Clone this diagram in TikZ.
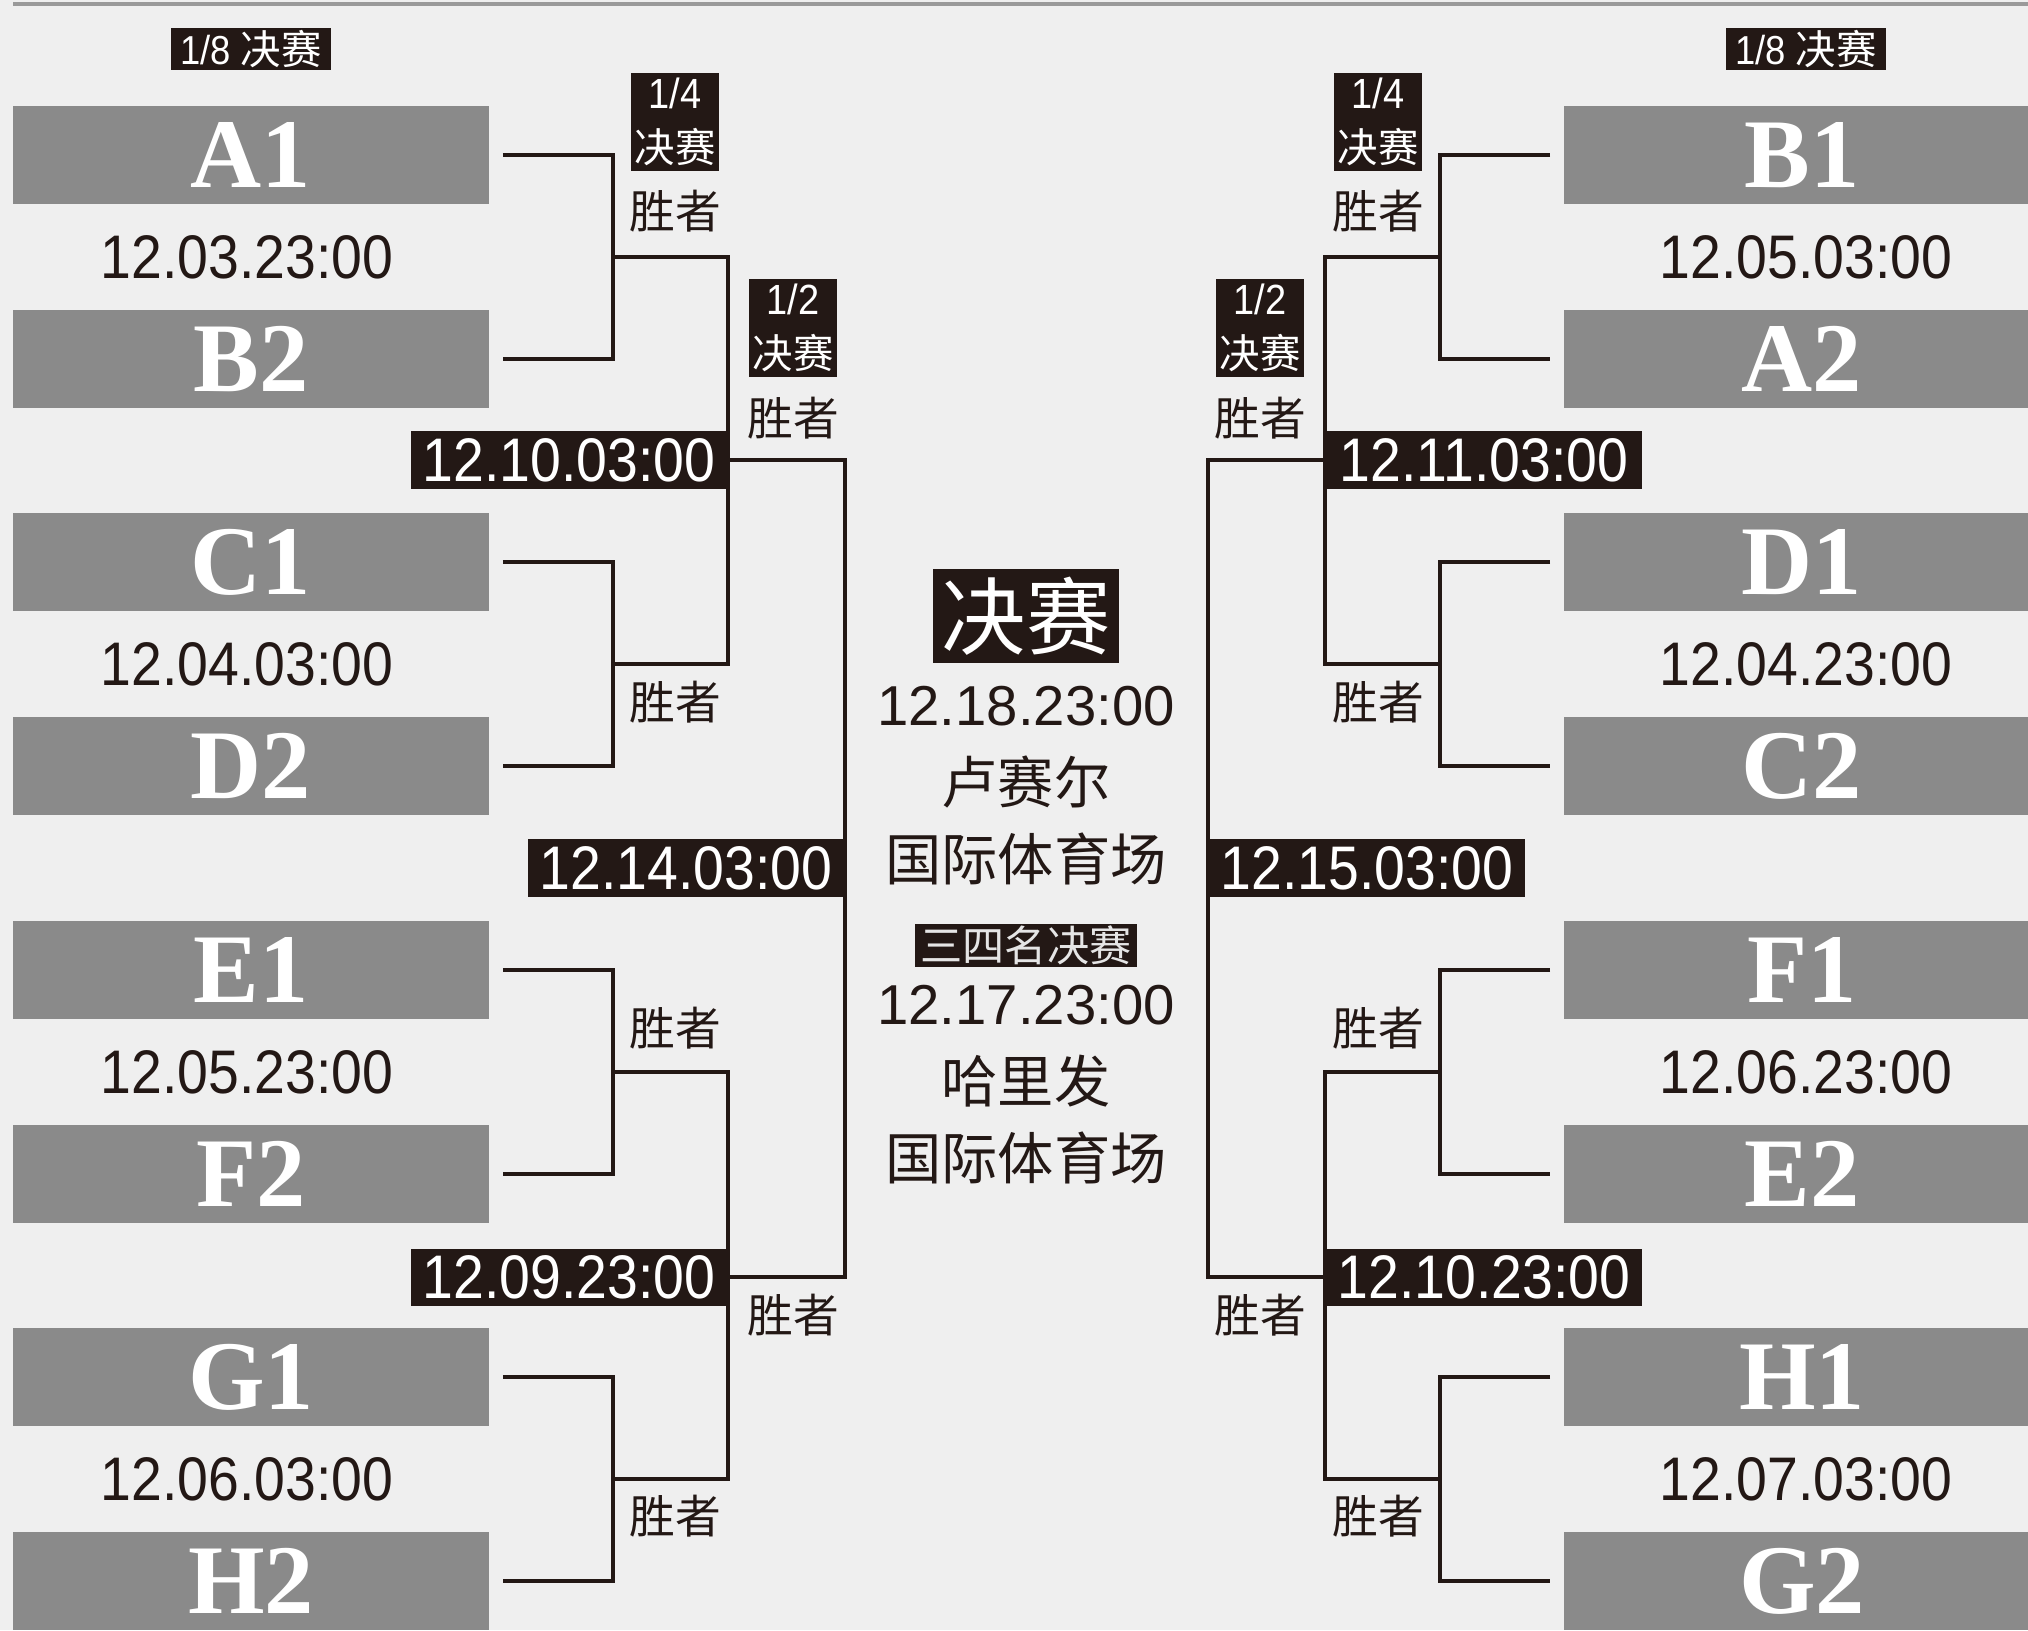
\documentclass[tikz,border=0pt]{standalone}
\usepackage{fontspec}
\setmainfont{Liberation Serif}
\newfontfamily\numfont[FakeStretch=0.9]{Liberation Sans}
\newfontfamily\datefont{Liberation Sans}
\newfontfamily\cnfont{Noto Sans CJK SC}
\definecolor{bg}{HTML}{EFEFEF}
\definecolor{ink}{HTML}{231815}
\definecolor{gbox}{HTML}{8A8A8A}
\definecolor{rule}{HTML}{9A9A9A}

\begin{document}
\begin{tikzpicture}[x=0.01cm,y=-0.01cm,
    bline/.style={draw=ink,line width=1.3pt},
    team/.style={fill=gbox,text=white,inner sep=0pt,minimum width=4.76cm,
      minimum height=0.98cm,font=\fontsize{28}{28}\selectfont\bfseries},
    date/.style={text=ink,inner sep=0pt,font=\numfont\fontsize{17.5}{18}\selectfont},
    hour/.style={fill=ink,text=white,inner sep=0pt,minimum width=3.16cm,
      minimum height=0.57cm,font=\numfont\fontsize{17.5}{18}\selectfont},
    stage/.style={fill=ink,text=white,inner sep=0pt,align=center,
      minimum width=0.88cm,minimum height=0.97cm,font=\fontsize{11.5}{15.5}\selectfont},
    win/.style={text=ink,inner sep=0pt,font=\cnfont\fontsize{13}{13}\selectfont},
    venue/.style={text=ink,inner sep=0pt,font=\cnfont\fontsize{16}{16}\selectfont},
    cdate/.style={text=ink,inner sep=0pt,font=\datefont\fontsize{16}{16}\selectfont}]

  \useasboundingbox (0,0) rectangle (2028,1630);
  \fill[bg] (0,0) rectangle (2028,1630);
  \draw[rule,line width=0.9pt] (13,4) -- (2028,4);

  \node[team] (A1) at ( 251, 155) {A1};
  \node[team] (B2) at ( 251, 359) {B2};
  \node[team] (C1) at ( 251, 562) {C1};
  \node[team] (D2) at ( 251, 766) {D2};
  \node[team] (E1) at ( 251, 970) {E1};
  \node[team] (F2) at ( 251,1174) {F2};
  \node[team] (G1) at ( 251,1377) {G1};
  \node[team] (H2) at ( 251,1581) {H2};
  \node[team] (B1) at (1802, 155) {B1};
  \node[team] (A2) at (1802, 359) {A2};
  \node[team] (D1) at (1802, 562) {D1};
  \node[team] (C2) at (1802, 766) {C2};
  \node[team] (F1) at (1802, 970) {F1};
  \node[team] (E2) at (1802,1174) {E2};
  \node[team] (H1) at (1802,1377) {H1};
  \node[team] (G2) at (1802,1581) {G2};

  \node[date] (d1) at ( 247, 257) {12.03.23:00};
  \node[date] (d2) at ( 247, 664) {12.04.03:00};
  \node[date] (d3) at ( 247,1072) {12.05.23:00};
  \node[date] (d4) at ( 247,1479) {12.06.03:00};
  \node[date] (d5) at (1806, 257) {12.05.03:00};
  \node[date] (d6) at (1806, 664) {12.04.23:00};
  \node[date] (d7) at (1806,1072) {12.06.23:00};
  \node[date] (d8) at (1806,1479) {12.07.03:00};

  \coordinate (q1) at ( 613, 257);
  \coordinate (q2) at ( 613, 664);
  \coordinate (q3) at ( 613,1072);
  \coordinate (q4) at ( 613,1479);
  \coordinate (q5) at (1440, 257);
  \coordinate (q6) at (1440, 664);
  \coordinate (q7) at (1440,1072);
  \coordinate (q8) at (1440,1479);
  \coordinate (s1) at ( 728, 460);
  \coordinate (s2) at ( 728,1277);
  \coordinate (s3) at (1325, 460);
  \coordinate (s4) at (1325,1277);
  \coordinate (f1) at ( 845, 868);
  \coordinate (f2) at (1208, 868);

  \draw[bline] ([xshift=0.13cm]A1.east) -| (q1) |- ([xshift=0.13cm]B2.east);
  \draw[bline] ([xshift=0.13cm]C1.east) -| (q2) |- ([xshift=0.13cm]D2.east);
  \draw[bline] ([xshift=0.13cm]E1.east) -| (q3) |- ([xshift=0.13cm]F2.east);
  \draw[bline] ([xshift=0.13cm]G1.east) -| (q4) |- ([xshift=0.13cm]H2.east);
  \draw[bline] ([xshift=-0.13cm]B1.west) -| (q5) |- ([xshift=-0.13cm]A2.west);
  \draw[bline] ([xshift=-0.13cm]D1.west) -| (q6) |- ([xshift=-0.13cm]C2.west);
  \draw[bline] ([xshift=-0.13cm]F1.west) -| (q7) |- ([xshift=-0.13cm]E2.west);
  \draw[bline] ([xshift=-0.13cm]H1.west) -| (q8) |- ([xshift=-0.13cm]G2.west);
  \draw[bline] (q1) -| (s1) |- (q2);
  \draw[bline] (q3) -| (s2) |- (q4);
  \draw[bline] (q5) -| (s3) |- (q6);
  \draw[bline] (q7) -| (s4) |- (q8);
  \draw[bline] (s1) -| (f1) |- (s2);
  \draw[bline] (s3) -| (f2) |- (s4);

  \node[hour,anchor=east] (h1) at (s1) {12.10.03:00};
  \node[hour,anchor=east] (h2) at (s2) {12.09.23:00};
  \node[hour,anchor=west] (h3) at (s3) {12.11.03:00};
  \node[hour,anchor=west] (h4) at (s4) {12.10.23:00};
  \node[hour,anchor=east] (h5) at (f1) {12.14.03:00};
  \node[hour,anchor=west] (h6) at (f2) {12.15.03:00};

  \node[stage,minimum width=1.59cm,minimum height=0.41cm] (r8l) at ( 251,49)
       {{\numfont 1/8} {\cnfont 决赛}};
  \node[stage,minimum width=1.59cm,minimum height=0.41cm] (r8r) at (1806,49)
       {{\numfont 1/8} {\cnfont 决赛}};
  \node[stage] (r4l) at ( 675,122) {{\numfont\large 1/4}\\{\cnfont 决赛}};
  \node[stage] (r4r) at (1378,122) {{\numfont\large 1/4}\\{\cnfont 决赛}};
  \node[stage] (r2l) at ( 793,328) {{\numfont\large 1/2}\\{\cnfont 决赛}};
  \node[stage] (r2r) at (1260,328) {{\numfont\large 1/2}\\{\cnfont 决赛}};

  \node[win] (w1)  at ( 675, 211) {胜者};
  \node[win] (w2)  at ( 675, 702) {胜者};
  \node[win] (w3)  at ( 675,1028) {胜者};
  \node[win] (w4)  at ( 675,1516) {胜者};
  \node[win] (w5)  at ( 793, 418) {胜者};
  \node[win] (w6)  at ( 793,1315) {胜者};
  \node[win] (w7)  at (1378, 211) {胜者};
  \node[win] (w8)  at (1378, 702) {胜者};
  \node[win] (w9)  at (1378,1028) {胜者};
  \node[win] (w10) at (1378,1516) {胜者};
  \node[win] (w11) at (1260, 418) {胜者};
  \node[win] (w12) at (1260,1315) {胜者};

  \node[fill=ink,text=white,inner sep=0pt,minimum width=1.86cm,minimum height=0.93cm,
        font=\cnfont\fontsize{24}{24}\selectfont] (fin) at (1026,616) {决赛};
  \node[cdate] (fdate) at (1026, 706) {12.18.23:00};
  \node[venue] (fv1)   at (1026, 782) {卢赛尔};
  \node[venue] (fv2)   at (1026, 859) {国际体育场};
  \node[fill=ink,text=white!90!black,inner sep=0pt,minimum width=2.22cm,minimum height=0.43cm,
        font=\cnfont\fontsize{12}{12}\selectfont] (third) at (1026,945) {三四名决赛};
  \node[cdate] (tdate) at (1026,1005) {12.17.23:00};
  \node[venue] (tv1)   at (1026,1081) {哈里发};
  \node[venue] (tv2)   at (1026,1158) {国际体育场};
\end{tikzpicture}
\end{document}
